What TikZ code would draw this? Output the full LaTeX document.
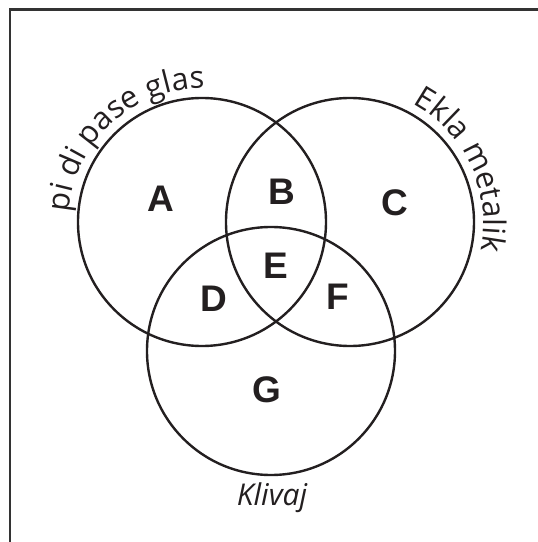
\documentclass[tikz,border=0pt]{standalone}
\usepackage{fontspec}
\setmainfont{Liberation Sans}
\newfontfamily\bogenfont{Open Sans}
\usetikzlibrary{decorations.text}
\definecolor{tinte}{HTML}{231F20}
\definecolor{rahmen}{HTML}{333333}
\tikzset{
  Kreis/.style={draw=tinte, line width=2.4pt, circle, minimum size=248pt, inner sep=0pt},
  Feld/.style={text=tinte, font=\fontsize{37}{37}\selectfont\bfseries},
  Bogen/.style={decorate, decoration={text along path, text align=left,
    text={|\bogenfont\fontsize{31}{31}\selectfont\color{tinte}|#1}}}
}
\begin{document}
\begin{tikzpicture}[x=1pt, y=1pt]
\useasboundingbox (0,0) rectangle (538,542);

%Rahmen
\draw[rahmen, line width=2.6pt] (9.8,-20) rectangle (560,532.3);

%Kreise
\node[Kreis] (KA) at (202,320) {};
\node[Kreis] (KC) at (350,320) {};
\node[Kreis] (KG) at (271,191) {};

%Felder
\node[Feld] (A) at (161,343) {A};
\node[Feld] (B) at (282,350) {B};
\node[Feld] (C) at (395,339) {C};
\node[Feld] (E) at (276,276) {E};
\node[Feld] (D) at (214,243) {D};
\node[Feld] (F) at (338,245) {F};
\node[Feld] (G) at (267,152) {G};

%Beschriftungen
\path[Bogen={pi di pase glas}] (KA.center) ++(176:133.5) arc[start angle=176, end angle=60, radius=133.5];
\path[Bogen={Ekla metalik}] (KC.center) ++(62:133.5) arc[start angle=62, end angle=-40, radius=133.5];
\node[anchor=base, text=tinte, font=\bogenfont\itshape\fontsize{30}{30}\selectfont] (Kl) at (272,37) {Klivaj};

\end{tikzpicture}
\end{document}
